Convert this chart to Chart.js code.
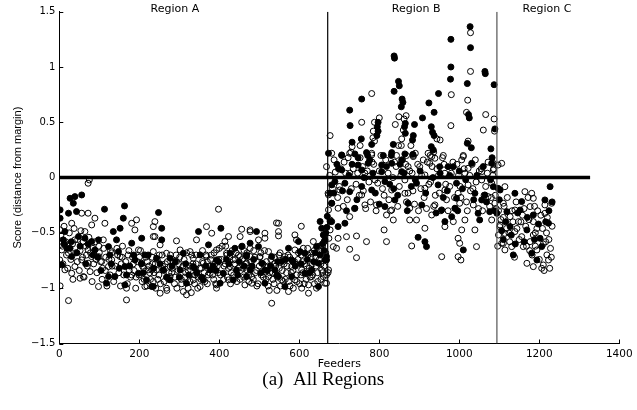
<!DOCTYPE html>
<html>
<head>
<meta charset="utf-8">
<script src="https://cdn.jsdelivr.net/npm/chart.js@4.4.1/dist/chart.umd.min.js"></script>
<style>
  html, body { margin: 0; padding: 0; background: #fff; }
  #wrap { width: 637px; height: 410px; }
</style>
</head>
<body>
<div id="wrap"><canvas id="chart" width="637" height="410"></canvas></div>
<script>
// points: [feeder, score]
const regionAFilled = [
  [27,-0.187],[35,-0.232],[56,-0.157],[39,-0.172],[2,-0.292],[2,-0.367],[23,-0.322],[43,-0.307],[113,-0.286],[163,-0.256],
  [160,-0.367],[135,-0.488],[152,-0.458],[14,-0.488],[10,-0.563],[27,-0.639],[48,-0.533],[64,-0.548],[81,-0.578],[98,-0.563],
  [143,-0.563],[148,-0.669],[123,-0.624],[31,-0.714],[6,-0.789],[123,-0.895],[118,-0.955],[139,-0.895],[164,-0.804],[189,-0.744],
  [198,-0.865],[218,-0.925],[231,-0.985],[164,-0.97],[89,-0.654],[181,-0.593],[214,-0.699],[206,-0.548],
  [248,-0.316],[256,-0.458],[256,-0.563],[348,-0.488],[404,-0.458],[373,-0.608],[439,-0.639],[456,-0.624],[243,-0.729],[277,-0.729],
  [310,-0.684],[352,-0.699],[393,-0.744],[427,-0.684],[260,-0.835],[302,-0.835],[335,-0.804],[377,-0.835],[410,-0.865],[443,-0.835],
  [235,-0.985],[277,-0.925],[318,-0.955],[360,-0.925],[402,-0.955],[435,-0.925],[468,-0.895],[468,-0.714],
  [493,-0.488],[573,-0.639],[598,-0.578],[602,-0.669],[652,-0.397],[656,-0.458],[660,-0.518],[664,-0.563],[668,-0.714],[664,-0.744],
  [477,-0.593],[498,-0.624],[531,-0.714],[556,-0.759],[581,-0.744],[614,-0.684],[631,-0.835],[648,-0.774],[477,-0.835],[514,-0.835],
  [548,-0.895],[581,-0.895],[614,-0.865],[648,-0.985],[514,-0.955],[564,-0.985],[643,-0.624],[468,-0.699],[506,-0.774],[539,-0.835],
  [20,-0.64],[44,-0.68],[72,-0.60],[96,-0.72],[130,-0.78],[176,-0.80],[205,-0.78],[222,-0.70],[268,-0.90],[290,-0.76],
  [324,-0.88],[344,-0.86],[366,-0.80],[392,-0.84],[418,-0.74],[450,-0.76],[482,-0.80],[520,-0.84],[546,-0.76],[590,-0.80],
  [620,-0.74],[640,-0.68],[658,-0.60],[666,-0.50],[669,-0.45],[670,-0.35],
  [12,-0.60],[30,-0.58],[52,-0.62],[66,-0.78],[84,-0.70],[104,-0.84],[126,-0.70],[150,-0.82],[168,-0.88],[186,-0.70],
  [210,-0.86],[236,-0.82],[252,-0.78],[282,-0.80],[300,-0.90],[316,-0.78],[338,-0.82],[356,-0.90],[384,-0.80],[398,-0.76],
  [424,-0.78],[446,-0.88],[462,-0.80],[486,-0.74],[504,-0.86],[528,-0.80],[544,-0.88],[566,-0.74],[584,-0.76],[604,-0.78],
  [626,-0.86],[636,-0.76],[652,-0.70],[662,-0.66]
];
const regionAOpen = [
  [72,-0.051],[75,-0.021],[2,-0.473],[31,-0.413],[56,-0.322],[72,-0.322],[89,-0.367],[114,-0.413],[181,-0.413],[193,-0.382],
  [189,-0.473],[235,-0.443],[81,-0.428],[64,-0.488],[6,-0.654],[23,-0.684],[14,-0.834],[52,-0.91],[60,-0.895],[2,-0.979],
  [23,-1.112],[98,-0.985],[168,-1.106],[168,-1.0],[39,-0.804],[56,-0.744],[72,-0.774],[98,-0.714],[106,-0.759],[131,-0.744],
  [198,-0.654],[206,-0.774],[231,-0.834],[1,-0.744],[14,-0.593],[39,-0.563],[72,-0.654],[81,-0.714],[123,-0.804],[152,-0.714],
  [181,-0.88],[214,-0.985],[222,-0.834],[110,-0.563],[235,-0.533],[31,-0.865],[77,-0.85],
  [239,-0.398],[239,-0.533],[293,-0.572],[368,-0.443],[381,-0.503],[398,-0.286],[423,-0.533],[414,-0.578],[456,-0.467],[477,-0.488],
  [452,-0.533],[343,-0.563],[235,-0.669],[268,-0.684],[293,-0.759],[327,-0.669],[335,-0.729],[368,-0.714],[393,-0.654],[418,-0.684],
  [452,-0.714],[468,-0.774],[243,-0.835],[277,-0.804],[318,-0.804],[343,-0.865],[385,-0.804],[427,-0.804],[460,-0.82],[235,-0.94],
  [268,-1.0],[310,-1.03],[352,-0.985],[393,-0.97],[423,-0.925],[464,-0.97],[318,-1.06],[277,-0.895],[335,-0.925],[377,-0.865],
  [435,-0.744],[252,-1.045],[393,-1.0],[360,-0.774],[302,-0.654],[252,-0.608],
  [477,-0.473],[514,-0.503],[514,-0.548],[548,-0.413],[548,-0.488],[548,-0.527],[589,-0.518],[593,-0.563],[635,-0.578],[610,-0.639],
  [498,-0.563],[523,-0.669],[564,-0.714],[589,-0.654],[631,-0.684],[656,-0.654],[477,-0.714],[502,-0.714],[539,-0.774],[581,-0.804],
  [606,-0.835],[631,-0.895],[660,-0.895],[664,-0.955],[481,-0.955],[523,-0.895],[556,-0.925],[589,-0.925],[623,-0.97],[643,-1.0],
  [481,-0.895],[531,-1.136],[573,-1.03],[606,-1.0],[656,-0.835],[623,-1.045],[543,-0.41],[605,-0.44],
  [8,-0.62],[18,-0.70],[33,-0.60],[45,-0.76],[52,-0.66],[60,-0.58],[68,-0.70],[84,-0.64],[92,-0.74],[100,-0.68],
  [108,-0.82],[116,-0.72],[128,-0.66],[132,-0.80],[146,-0.70],[155,-0.78],[158,-0.62],[172,-0.70],[175,-0.84],[185,-0.78],
  [192,-0.90],[200,-0.72],[208,-0.80],[212,-0.92],[220,-0.76],[226,-0.86],[232,-0.72],[240,-0.78],[246,-0.92],[250,-0.70],
  [258,-0.80],[262,-0.94],[270,-0.76],[274,-0.86],[282,-0.82],[288,-0.96],[292,-0.70],[298,-0.78],[305,-0.92],[312,-0.74],
  [316,-0.86],[322,-1.0],[326,-0.80],[331,-0.70],[338,-0.96],[342,-0.78],[347,-0.90],[355,-0.82],[358,-0.66],[364,-0.94],
  [370,-0.76],[372,-0.88],[380,-0.70],[386,-0.92],[390,-0.78],[397,-0.86],[400,-0.64],[406,-0.74],[412,-0.80],[416,-0.62],
  [420,-0.90],[426,-0.72],[430,-0.86],[438,-0.78],[442,-0.68],[448,-0.82],[452,-0.92],[458,-0.74],[462,-0.66],[470,-0.84],
  [474,-0.94],[480,-0.76],[486,-0.66],[490,-0.86],[494,-0.98],[500,-0.80],[504,-0.68],[510,-0.90],[518,-0.76],[522,-0.98],
  [526,-0.86],[534,-0.92],[538,-0.72],[544,-1.02],[550,-0.82],[552,-0.68],[560,-0.94],[562,-0.78],[568,-0.86],[572,-0.70],
  [577,-0.98],[584,-0.84],[588,-0.76],[594,-0.94],[598,-0.68],[604,-0.88],[608,-0.76],[612,-0.96],[618,-0.80],[622,-0.70],
  [627,-0.90],[633,-0.78],[638,-0.96],[641,-0.72],[646,-0.86],[650,-0.74],[654,-0.92],[658,-0.62],[662,-0.80],[666,-0.68],[668,-0.88],
  [4,-0.52],[9,-0.78],[12,-0.44],[16,-0.58],[21,-0.82],[25,-0.50],[29,-0.74],[34,-0.92],[37,-0.46],[41,-0.68],
  [46,-0.56],[50,-0.84],[54,-0.48],[58,-0.72],[62,-0.90],[66,-0.62],[70,-0.80],[74,-0.54],[78,-0.68],[82,-0.94],
  [86,-0.78],[90,-0.58],[94,-0.86],[99,-0.62],[103,-0.76],[107,-0.92],[111,-0.64],[115,-0.84],[119,-0.98],[124,-0.74],
  [127,-0.88],[131,-0.68],[136,-0.94],[140,-0.80],[144,-0.64],[149,-0.86],[153,-0.98],[157,-0.72],[161,-0.88],[166,-0.76],
  [170,-0.96],[174,-0.66],[178,-0.90],[183,-0.72],[187,-0.84],[191,-1.0],[195,-0.76],[199,-0.88],[203,-0.66],[207,-0.94],
  [211,-0.82],[216,-0.72],[219,-0.98],[224,-0.80],[228,-0.92],[233,-0.78],[237,-0.86],[241,-1.0],[245,-0.74],[249,-0.88],
  [253,-0.96],[257,-0.70],[261,-0.84],[265,-0.78],[269,-1.02],[273,-0.92],[278,-0.70],[281,-0.86],[285,-0.76],[289,-0.90],
  [294,-1.0],[297,-0.84],[301,-0.72],[306,-0.96],[309,-0.80],[314,-0.90],[318,-0.68],[322,-0.84],[327,-0.94],[330,-1.04],
  [334,-0.78],[339,-0.88],[342,-0.70],[346,-1.0],[351,-0.82],[354,-0.92],[358,-0.76],[362,-0.86],[367,-0.70],[370,-0.96],
  [375,-0.80],[378,-0.74],[383,-0.88],[387,-0.68],[391,-0.96],[395,-0.80],[399,-0.74],[403,-0.88],[407,-0.62],[411,-0.92],
  [415,-0.78],[419,-0.70],[423,-0.82],[428,-0.96],[432,-0.66],[436,-0.88],[440,-0.74],[444,-0.94],[448,-0.70],[453,-0.84],
  [457,-0.62],[461,-0.90],[465,-0.78],[469,-0.68],[473,-0.88],[477,-0.64],[481,-0.80],[485,-0.92],[489,-0.72],[493,-0.84],
  [497,-0.96],[501,-0.72],[505,-0.88],[509,-0.78],[513,-0.66],[517,-0.92],[521,-0.80],[525,-1.02],[529,-0.74],[533,-0.86],
  [537,-0.96],[541,-0.80],[545,-0.90],[549,-0.70],[553,-0.98],[557,-0.84],[561,-0.74],[565,-0.92],[569,-0.80],[573,-0.94],
  [576,-0.72],[580,-0.86],[585,-1.0],[589,-0.78],[593,-0.88],[597,-0.74],[601,-0.96],[605,-0.70],[609,-0.86],[613,-0.78],
  [617,-0.92],[621,-0.64],[625,-0.82],[629,-0.72],[633,-0.88],[637,-0.66],[642,-0.80],[646,-0.94],[650,-0.62],[654,-0.78],
  [658,-0.86],[662,-0.58],[666,-0.74]
];
const regionBFilled = [
  [681,-0.066],[677,-0.141],[677,-0.397],[681,-0.232],
  [1027,1.365],[1028,1.175],[979,1.25],[837,1.10],[838,1.08],[979,1.0],[1064,0.96],[1065,0.94],[978,0.89],[1087,0.84],
  [1020,0.85],[848,0.87],[850,0.83],[837,0.78],[948,0.76],[756,0.71],[857,0.71],[859,0.68],[855,0.64],[924,0.675],
  [726,0.61],[937,0.59],[908,0.54],[1023,0.57],[1025,0.54],[727,0.47],[865,0.49],[863,0.46],[888,0.48],[797,0.50],
  [795,0.46],[797,0.42],[794,0.38],[930,0.46],[933,0.41],[937,0.38],[1089,0.44],[885,0.38],[883,0.34],[865,0.40],
  [732,0.32],[755,0.35],[781,0.30],[1020,0.31],[1030,0.27],[1079,0.26],[930,0.28],[935,0.25],[835,0.30],[673,0.22],
  [706,0.20],[747,0.18],[771,0.20],[830,0.20],[884,0.21],
  [706,0.205],[739,0.214],[768,0.226],[831,0.226],[864,0.214],[747,0.114],[772,0.129],[806,0.114],[831,0.129],[856,0.16],
  [706,0.069],[756,0.069],[806,0.054],[856,0.054],[951,0.099],[972,0.099],[985,0.099],[1031,0.129],[1081,0.129],[689,-0.036],
  [714,-0.051],[814,-0.036],[893,-0.051],[947,-0.066],[993,-0.051],[781,-0.112],[726,-0.127],[839,-0.202],[993,-0.187],[1039,-0.142],
  [1064,-0.157],[1056,-0.202],[1085,-0.082],[681,-0.232],[739,-0.277],[814,-0.262],[872,-0.232],[906,-0.247],[956,-0.292],[989,-0.277],
  [981,-0.353],[1047,-0.323],[1076,-0.308],[697,-0.443],[714,-0.413],[681,-0.398],[964,-0.398],[1051,-0.383],[897,-0.54],[914,-0.579],
  [918,-0.624],[1010,-0.654],[668,-0.745],
  [694,0.12],[708,-0.12],[724,0.02],[744,-0.2],[762,0.0],[776,0.16],[790,-0.14],[818,0.1],[826,-0.06],[846,-0.16],
  [862,0.04],[880,-0.08],[902,0.06],[934,0.0],[960,-0.18],[976,0.02],[1000,0.06],[1016,-0.02],[1036,-0.2],[1060,0.1],
  [1078,-0.02],[1088,-0.3],
  [686,-0.14],[698,0.08],[718,-0.30],[732,0.12],[756,-0.08],[784,0.04],[800,-0.24],[810,0.20],[836,-0.10],[852,0.12],
  [870,-0.30],[890,-0.02],[916,-0.14],[942,-0.32],[952,0.04],[970,-0.12],[996,-0.30],[1008,-0.10],[1044,0.02],[1068,-0.22],[1082,0.18]
];
const regionBOpen = [
  [673,-0.156],[673,-0.292],[677,-0.473],[685,-0.624],[673,-0.835],
  [1028,1.31],[1028,0.96],[781,0.76],[980,0.75],[1021,0.70],[1018,0.59],[1066,0.57],[1087,0.53],[849,0.55],[867,0.56],
  [862,0.53],[800,0.54],[756,0.50],[788,0.50],[840,0.48],[979,0.47],[1060,0.43],[1088,0.42],[677,0.38],[785,0.42],
  [784,0.36],[788,0.33],[860,0.43],[856,0.35],[944,0.35],[952,0.34],[732,0.28],[752,0.29],[729,0.23],[848,0.29],
  [855,0.29],[879,0.29],[781,0.22],[936,0.23],[1022,0.33],[843,0.20],[868,0.20],[885,0.20],[927,0.20],[960,0.20],[1010,0.19],
  [681,0.22],[726,0.22],[781,0.205],[885,0.19],[931,0.19],[922,0.22],[1006,0.16],[1022,0.084],[1056,0.054],[1097,0.114],
  [668,0.099],[726,0.039],[764,0.039],[872,0.099],[901,0.099],[926,0.129],[939,0.175],[789,-0.021],[864,-0.021],[914,0.024],
  [964,0.039],[1014,0.039],[1056,-0.021],[1081,-0.051],[672,-0.142],[701,-0.112],[756,-0.157],[831,-0.112],[864,-0.142],[914,-0.097],
  [964,-0.112],[997,-0.142],[1022,-0.066],[1072,-0.172],[697,-0.277],[764,-0.247],[793,-0.247],[831,-0.293],[876,-0.277],[939,-0.247],
  [1001,-0.232],[1035,-0.247],[1089,-0.232],[677,-0.383],[726,-0.353],[818,-0.338],[835,-0.383],[876,-0.383],[893,-0.383],[931,-0.338],
  [1014,-0.383],[985,-0.398],[964,-0.443],[1039,-0.473],[1081,-0.383],[674,-0.549],[697,-0.549],[718,-0.534],[743,-0.528],[768,-0.579],
  [812,-0.473],[818,-0.579],[881,-0.618],[914,-0.458],[1006,-0.473],[997,-0.549],[1001,-0.594],[1043,-0.624],[693,-0.639],[726,-0.648],
  [743,-0.724],[956,-0.715],[997,-0.715],[1004,-0.745],[672,-0.859],[668,-0.955],
  [690,0.05],[700,-0.08],[712,0.14],[720,-0.20],[735,0.08],[742,-0.06],[752,0.18],[760,-0.12],[770,0.06],[778,-0.22],
  [786,0.12],[796,-0.05],[804,0.2],[812,-0.16],[822,0.04],[828,-0.3],[842,0.10],[850,-0.08],[858,0.16],[868,-0.22],
  [876,0.06],[884,-0.12],[890,0.22],[898,-0.30],[906,0.02],[912,-0.18],[920,0.14],[928,-0.04],[936,-0.26],[944,0.08],
  [950,-0.14],[958,0.18],[966,-0.06],[972,-0.30],[980,0.04],[988,-0.18],[994,0.12],[1002,-0.08],[1010,0.20],[1018,-0.22],
  [1026,0.02],[1034,-0.10],[1040,0.16],[1048,-0.28],[1055,0.08],[1062,-0.16],[1070,0.04],[1076,-0.26],[1084,0.02],[1090,-0.16],
  [676,0.02],[683,-0.10],[687,0.16],[696,-0.18],[704,0.08],[710,-0.26],[716,0.04],[722,0.18],[730,-0.10],[738,-0.28],
  [746,0.04],[750,-0.16],[758,0.10],[766,-0.28],[774,-0.04],[782,0.14],[792,-0.30],[800,0.06],[808,-0.10],[816,0.16],
  [824,-0.20],[834,0.0],[838,0.14],[846,-0.26],[854,0.02],[866,0.12],[872,-0.14],[882,0.04],[888,-0.24],[896,0.12],
  [904,-0.10],[910,0.16],[918,-0.28],[924,-0.06],[932,0.10],[940,-0.16],[948,0.02],[954,-0.30],[962,0.12],[968,-0.20],
  [976,-0.08],[984,0.14],[990,-0.28],[998,0.02],[1004,-0.18],[1012,0.08],[1020,-0.30],[1028,-0.12],[1032,0.12],[1042,-0.04],
  [1050,0.06],[1058,-0.30],[1066,-0.08],[1072,0.14],[1080,-0.18],[1086,0.08],[1092,-0.28]
];
const regionCFilled = [
  [1097,-0.097],[1227,-0.082],[1102,-0.112],[1139,-0.142],[1156,-0.217],[1214,-0.202],[1094,-0.323],[1119,-0.308],[1152,-0.293],[1185,-0.338],
  [1223,-0.413],[1127,-0.443],[1169,-0.473],[1202,-0.549],[1135,-0.699],[1181,-0.684],[1194,-0.745],[1206,-0.624],
  [1100,-0.20],[1116,-0.40],[1146,-0.32],[1162,-0.58],[1198,-0.42],[1224,-0.30],[1232,-0.22],[1110,-0.56],
  [1106,-0.48],[1130,-0.52],[1170,-0.36],[1188,-0.56],[1216,-0.40],[1140,-0.60]
];
const regionCOpen = [
  [1101,-0.443],[1106,-0.594],[1114,-0.654],
  [1085,0.129],[1106,0.129],[1085,0.069],[1114,-0.082],[1164,-0.127],[1181,-0.142],[1185,-0.187],[1214,-0.247],[1231,-0.232],
  [1110,-0.232],[1139,-0.293],[1177,-0.262],[1214,-0.323],[1102,-0.428],[1148,-0.398],[1185,-0.398],[1098,-0.519],[1114,-0.504],
  [1156,-0.534],[1139,-0.488],[1185,-0.519],[1110,-0.594],[1131,-0.624],[1160,-0.624],[1177,-0.579],[1194,-0.654],[1219,-0.699],
  [1169,-0.775],[1185,-0.805],[1206,-0.82],[1210,-0.79],[1223,-0.745],[1127,-0.353],
  [1098,-0.30],[1110,-0.36],[1120,-0.18],[1124,-0.5],[1134,-0.40],[1142,-0.22],[1150,-0.56],[1158,-0.34],[1166,-0.44],[1172,-0.18],
  [1176,-0.66],[1190,-0.50],[1196,-0.30],[1200,-0.74],[1208,-0.46],[1216,-0.58],[1220,-0.36],[1228,-0.64],[1232,-0.44],[1226,-0.82],
  [1212,-0.84],[1190,-0.62],
  [1096,-0.62],[1104,-0.38],[1112,-0.26],[1118,-0.46],[1126,-0.58],[1132,-0.30],[1138,-0.72],[1144,-0.46],[1154,-0.40],[1162,-0.28],
  [1168,-0.62],[1174,-0.38],[1182,-0.70],[1188,-0.26],[1194,-0.46],[1204,-0.34],[1210,-0.60],[1218,-0.50],[1224,-0.56],[1230,-0.72]
];

// reference lines and labels
const zeroLine = [[0, 0], [1327, 0]];
const boundaryX = [671, 1094];
const boundaryColor = ['#000', '#555'];
const regionNames = ['Region A', 'Region B', 'Region C'];
const regionLabelX = [289, 892, 1219];
const captionText = '(a)  All Regions';

function toPts(list) {
  return list.map(p => ({ x: p[0], y: p[1] }));
}

const filledPts = toPts(regionAFilled.concat(regionBFilled, regionCFilled));
const openPts = toPts(regionAOpen.concat(regionBOpen, regionCOpen));

// ticks inside the axes, labels above the plot, caption underneath
const extras = {
  id: 'extras',
  afterDraw(chart) {
    const { ctx, chartArea, scales } = chart;
    const xs = scales.x, ys = scales.y;
    ctx.save();
    ctx.strokeStyle = '#000';
    ctx.lineWidth = 1;
    ctx.beginPath();
    xs.ticks.forEach(t => {
      const px = Math.round(xs.getPixelForValue(t.value)) + 0.5;
      ctx.moveTo(px, chartArea.bottom);
      ctx.lineTo(px, chartArea.bottom - 4);
    });
    ys.ticks.forEach(t => {
      const py = Math.round(ys.getPixelForValue(t.value)) + 0.5;
      ctx.moveTo(chartArea.left, py);
      ctx.lineTo(chartArea.left + 4, py);
    });
    ctx.stroke();

    ctx.fillStyle = '#000';
    ctx.textAlign = 'center';
    ctx.textBaseline = 'middle';
    ctx.font = '11px "DejaVu Sans"';
    regionNames.forEach((name, i) => {
      ctx.fillText(name, xs.getPixelForValue(regionLabelX[i]), chartArea.top - 3);
    });

    ctx.font = '19px "Liberation Serif"';
    ctx.fillText(captionText, (chartArea.left + chartArea.right) / 2 - 16, 380);
    ctx.restore();
  }
};

const lineSets = [
  { type: 'line', data: toPts(zeroLine), borderColor: '#000', borderWidth: 3.5, pointRadius: 0 }
].concat(boundaryX.map((bx, i) => ({
  type: 'line', data: toPts([[bx, -1.5], [bx, 1.5]]), borderColor: boundaryColor[i], borderWidth: 1.2, pointRadius: 0
})));

new Chart(document.getElementById('chart'), {
  type: 'scatter',
  data: {
    datasets: lineSets.concat([
      { data: filledPts, pointRadius: 3, pointHoverRadius: 3, backgroundColor: '#000', borderColor: '#000', borderWidth: 1 },
      { data: openPts, pointRadius: 3, pointHoverRadius: 3, backgroundColor: 'rgba(0,0,0,0)', borderColor: '#000', borderWidth: 1 }
    ])
  },
  options: {
    responsive: false,
    animation: false,
    layout: { padding: { top: 11.7, right: 17.7, bottom: 0, left: 0 } },
    plugins: { legend: { display: false }, tooltip: { enabled: false } },
    scales: {
      x: {
        type: 'linear', min: 0, max: 1400,
        ticks: { stepSize: 200, padding: 4, color: '#000', font: { family: 'DejaVu Sans', size: 10.5 }, callback: v => String(v) },
        grid: { display: false, drawTicks: false },
        border: { color: '#000', width: 1 },
        title: { display: true, text: 'Feeders', color: '#000', font: { family: 'DejaVu Sans', size: 11 }, padding: { top: 0, bottom: 39.4 } },
        afterFit(s) { s.height = 66.5; }
      },
      y: {
        type: 'linear', min: -1.5, max: 1.5,
        ticks: {
          stepSize: 0.5, padding: 4, color: '#000', font: { family: 'DejaVu Sans', size: 10 },
          callback: v => String(v).replace('-', '\u2212')
        },
        grid: { display: false, drawTicks: false },
        border: { color: '#000', width: 1 },
        title: { display: true, text: 'Score (distance from margin)', color: '#000', font: { family: 'Liberation Sans', size: 11 }, padding: { top: 11.4, bottom: 0 } },
        afterFit(s) { s.width = 59.3; }
      }
    }
  },
  plugins: [extras]
});
</script>
</body>
</html>
